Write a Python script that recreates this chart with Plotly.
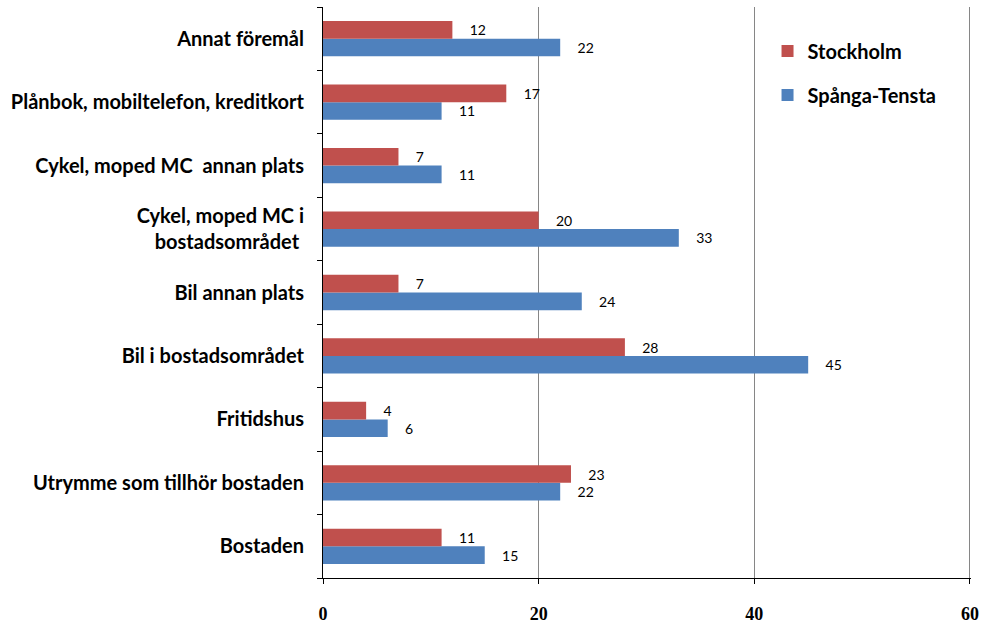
import plotly.graph_objects as go

categories = ["Bostaden", "Utrymme som tillhör bostaden", "Fritidshus",
              "Bil i bostadsområdet", "Bil annan plats",
              "Cykel, moped MC i<br>bostadsområdet ",
              "Cykel, moped MC  annan plats",
              "Plånbok, mobiltelefon, kreditkort", "Annat föremål"]
stockholm = [11, 23, 4, 28, 7, 20, 7, 17, 12]
spanga = [15, 22, 6, 45, 24, 33, 11, 11, 22]
x_ticks = [0, 20, 40, 60]

fig = go.Figure()
fig.add_trace(go.Bar(y=categories, x=spanga, orientation="h", name="Spånga-Tensta",
                     marker=dict(color="#4F81BD", line=dict(width=0)),
                     text=spanga, texttemplate="    %{x}", textposition="outside",
                     textfont=dict(family="Lato", size=14, color="#000"),
                     cliponaxis=False, legendgroup="b", legendrank=2))
fig.add_trace(go.Bar(y=categories, x=stockholm, orientation="h", name="Stockholm",
                     marker=dict(color="#C0504D", line=dict(width=0)),
                     text=stockholm, texttemplate="    %{x}", textposition="outside",
                     textfont=dict(family="Lato", size=14, color="#000"),
                     cliponaxis=False, legendgroup="a", legendrank=1))

fig.update_layout(
    width=984, height=623,
    margin=dict(l=323, r=13, t=7, b=45, autoexpand=False),
    barmode="group", bargap=0.444, bargroupgap=0,
    plot_bgcolor="white", paper_bgcolor="white",
    font=dict(family="Lato", color="#000"),
    legend=dict(x=0.686, y=0.957, xanchor="left", yanchor="top",
                traceorder="grouped", tracegroupgap=15,
                font=dict(family="Lato", size=20, color="#000", weight="bold"),
                bgcolor="rgba(0,0,0,0)"),
)
fig.update_xaxes(range=[0, 60.1], tickvals=x_ticks, showgrid=True, gridcolor="#868686",
                 gridwidth=1, showline=True, linecolor="#000", linewidth=1,
                 ticks="outside", ticklen=5, tickcolor="#000", zeroline=False,
                 ticklabelstandoff=14, automargin=False,
                 tickfont=dict(family="Liberation Serif", size=18, color="#000", weight="bold"))
fig.update_yaxes(categoryorder="array", categoryarray=categories,
                 showline=True, linecolor="#000", linewidth=1,
                 ticks="outside", ticklen=5, tickcolor="#000", tickson="boundaries",
                 showgrid=False, ticklabelstandoff=14, automargin=False,
                 tickfont=dict(family="Lato", size=20, color="#000", weight="bold"))

fig.write_html("out.html", config={"displayModeBar": False},
               post_script="document.body.style.margin='0';")
